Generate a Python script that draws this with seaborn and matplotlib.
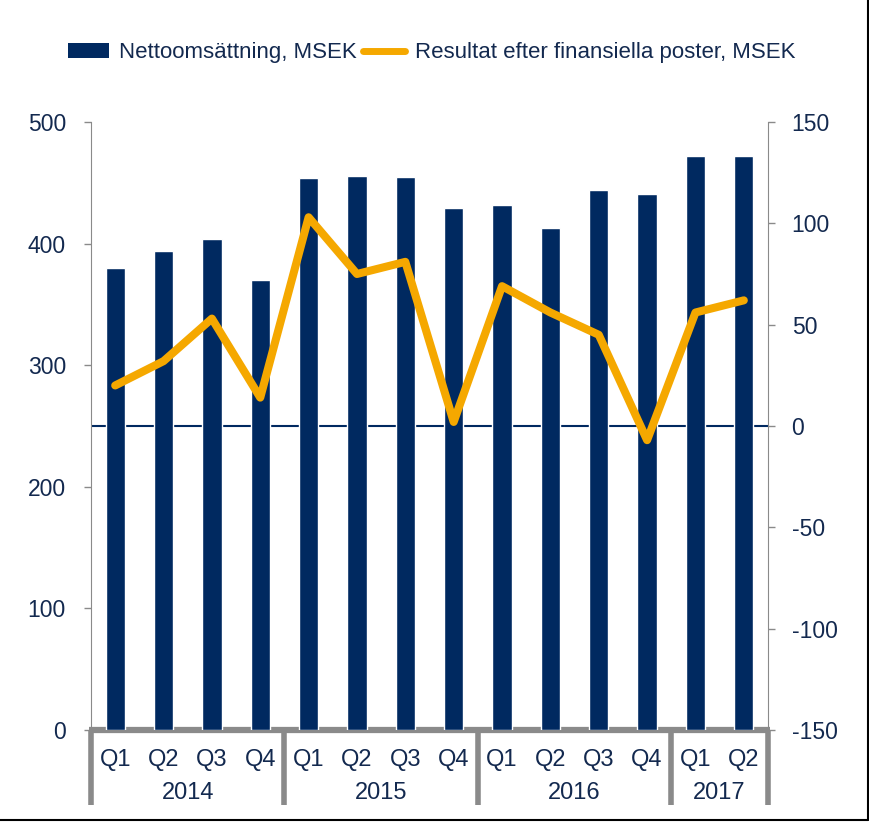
import numpy as np
import pandas as pd
import matplotlib
matplotlib.use("Agg")
import matplotlib.pyplot as plt
import matplotlib.transforms as mtransforms
from matplotlib.patches import Patch
from matplotlib.lines import Line2D
import seaborn as sns

# data
years = ["2014", "2015", "2016", "2017"]
quarters = ["Q1", "Q2", "Q3", "Q4", "Q1", "Q2", "Q3", "Q4",
            "Q1", "Q2", "Q3", "Q4", "Q1", "Q2"]
quarters_per_year = [4, 4, 4, 2]
net_sales = [380, 394, 404, 370, 454, 456, 455, 429, 432, 413, 444, 441, 472, 472]
result = [20, 32, 53, 14, 103, 75, 81, 2, 69, 56, 45, -7, 56, 62]

NAVY = "#002960"
ORANGE = "#F5A800"
TEXT = "#13294f"
GREY = "#8a8a8a"

sns.set_style("white")
plt.rcParams["font.family"] = ["Liberation Sans", "DejaVu Sans"]
plt.rcParams["axes.unicode_minus"] = False
NARROW = ["Liberation Sans Narrow", "Liberation Sans", "DejaVu Sans"]

period = []
for y, n in zip(years, quarters_per_year):
    period += [f"{y} {q}" for q in quarters[len(period):len(period) + n]]
df = pd.DataFrame({"period": period, "quarter": quarters,
                   "sales": net_sales, "result": result,
                   "pos": np.arange(len(period))})

fig = plt.figure(figsize=(8.7, 8.25), dpi=100)
ax = fig.add_axes([91 / 870, 1 - 730 / 825, 677 / 870, 608 / 825])
ax2 = ax.twinx()

sns.barplot(data=df, x="period", y="sales", color=NAVY, width=0.4,
            saturation=1, ax=ax, zorder=3)
ax.set_ylim(0, 500)
ax.set_xlim(-0.5, len(period) - 0.5)
ax.axhline(250, color=NAVY, lw=1.5, zorder=2)

sns.lineplot(data=df, x="pos", y="result", color=ORANGE, lw=5.8, ax=ax2,
             solid_capstyle="round", zorder=4)
ax2.set_ylim(-150, 150)
ax2.set_xlim(-0.5, len(period) - 0.5)

for a in (ax, ax2):
    a.set_xlabel("")
    a.set_ylabel("")
    a.set_xticks([])
    a.spines["top"].set_visible(False)
    a.spines["bottom"].set_visible(False)
    a.grid(False)
ax.spines["right"].set_visible(False)
ax2.spines["left"].set_visible(False)
ax.spines["left"].set_color(GREY)
ax2.spines["right"].set_color(GREY)

ax.set_yticks([0, 100, 200, 300, 400, 500])
ax2.set_yticks([-150, -100, -50, 0, 50, 100, 150])
ax.tick_params(axis="y", left=True, direction="out", length=5, width=1,
               color=GREY, labelsize=16.5, labelcolor=TEXT, pad=13)
ax2.tick_params(axis="y", right=True, direction="out", length=5, width=1,
                color=GREY, labelsize=16.5, labelcolor=TEXT, pad=12)

# category axis with quarter / year groups
trans = mtransforms.blended_transform_factory(ax.transData, ax.transAxes)
ax.plot([-0.55, len(period) - 0.45], [0, 0], color=GREY, lw=4.5,
        transform=trans, clip_on=False, solid_capstyle="butt")
edges = np.concatenate([[0], np.cumsum(quarters_per_year)]) - 0.5
for e in edges:
    ax.plot([e, e], [0, -0.124], color=GREY, lw=4, transform=trans,
            clip_on=False, solid_capstyle="butt")
for i, q in enumerate(df["quarter"]):
    ax.text(i, -0.049, q, transform=trans, ha="center", va="center",
            fontsize=17, color=TEXT, family=NARROW)
for y, a, b in zip(years, edges[:-1], edges[1:]):
    ax.text((a + b) / 2, -0.104, y, transform=trans, ha="center", va="center",
            fontsize=17, color=TEXT, family=NARROW)

handles = [Patch(facecolor=NAVY, edgecolor="none"),
           Line2D([], [], color=ORANGE, lw=5, solid_capstyle="round")]
labels = ["Nettoomsättning, MSEK", "Resultat efter finansiella poster, MSEK"]
leg = fig.legend(handles, labels, loc="center", bbox_to_anchor=(0.496, 0.936),
                 ncol=2, frameon=False, fontsize=16, handlelength=1.85,
                 handletextpad=0.45, columnspacing=0.3)
for t in leg.get_texts():
    t.set_color(TEXT)

# outer frame on right and bottom edge
fig.add_artist(Line2D([0, 0.998], [0.006, 0.006], color="black", lw=1.5,
                      transform=fig.transFigure))
fig.add_artist(Line2D([0.998, 0.998], [0.006, 1], color="black", lw=1.5,
                      transform=fig.transFigure))

fig.savefig("out.png", dpi=100)
